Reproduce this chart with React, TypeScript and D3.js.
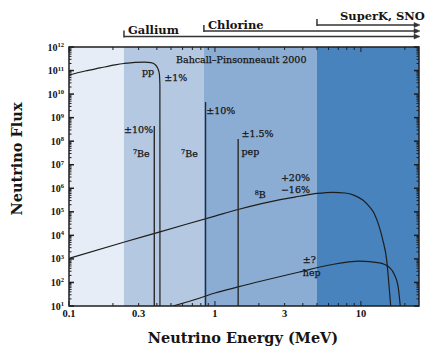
import React from 'react';
import * as d3 from 'd3';

// energy bands (MeV) and the detector thresholds that define them
const bandEdges = [0.1, 0.238, 0.84, 5.0, 25];
const bandColors = ['#e6edf6', '#b5c8e1', '#8badd4', '#4883bd'];
const detectorNames = ['Gallium', 'Chlorine', 'SuperK, SNO'];
const detectorThresholds = [0.238, 0.84, 5.0];

// continuous spectra: energy (MeV) and log10 flux
const ppEnergy = [0.1, 0.129, 0.163, 0.207, 0.238, 0.283, 0.331, 0.364, 0.388, 0.407, 0.416, 0.4195, 0.42];
const ppLogFlux = [10.81, 10.98, 11.11, 11.24, 11.3, 11.35, 11.36, 11.34, 11.26, 11.07, 10.85, 10.4, 1];

const b8Energy = [0.1, 0.24, 0.42, 1.0, 1.44, 2.8, 3.8, 5.0, 6.4, 7.8, 9.0, 10.3, 11.5, 12.4, 13.3, 14.1, 15.0, 15.6, 16.0];
const b8LogFlux = [3.02, 3.72, 4.15, 4.82, 5.1, 5.52, 5.66, 5.78, 5.83, 5.8, 5.7, 5.5, 5.2, 4.9, 4.4, 3.82, 2.97, 1.83, 1.0];

const hepEnergy = [0.516, 0.79, 1.0, 1.44, 3.83, 6.1, 9.8, 13.4, 15.8, 17.0, 18.0, 18.6];
const hepLogFlux = [1.0, 1.34, 1.55, 1.81, 2.45, 2.74, 2.91, 2.83, 2.62, 2.32, 1.81, 1.0];

// line sources
const lineEnergy = [0.384, 0.862, 1.442];
const lineLogFlux = [8.65, 9.66, 8.09];

const xTickLabels = [0.1, 0.3, 1, 3, 10];
const yTickExponents = [1, 2, 3, 4, 5, 6, 7, 8, 9, 10, 11, 12];

const W = 431;
const H = 351;
const L = 69, R = 419, T = 47, B = 306;
const serif = '"DejaVu Serif", serif';
const tickFont = '"Liberation Serif", serif';

export default function App() {
  const x = d3.scaleLog().domain([0.1, 25]).range([L, R]);
  const y = d3.scaleLog().domain([10, 1e12]).range([B, T]);

  const line = d3.line<[number, number]>()
    .x(d => x(d[0]))
    .y(d => y(Math.pow(10, d[1])))
    .curve(d3.curveMonotoneX);

  const zip = (e: number[], f: number[]) => e.map((v, i) => [v, f[i]] as [number, number]);
  const spectra = [zip(ppEnergy, ppLogFlux), zip(b8Energy, b8LogFlux), zip(hepEnergy, hepLogFlux)];

  const xTicks = x.ticks();
  const yMinor: number[] = [];
  for (let e = 1; e < 12; e++) for (let m = 2; m < 10; m++) yMinor.push(m * Math.pow(10, e));

  const detY = [36.5, 31, 25];
  const labelY = [34, 28.5, 20];

  const lbl = { fontFamily: serif, fontSize: 9.5, fill: '#151515', stroke: '#151515', strokeWidth: 0.25 } as const;

  return (
    <svg width={W} height={H} style={{ position: 'absolute', left: 0, top: 0, background: '#fff' }}>
      <defs>
        <clipPath id="plot"><rect x={L} y={T} width={R - L} height={B - T} /></clipPath>
      </defs>

      {bandColors.map((c, i) => (
        <rect key={i} x={x(bandEdges[i])} y={T} width={x(bandEdges[i + 1]) - x(bandEdges[i])} height={B - T} fill={c} />
      ))}

      <g clipPath="url(#plot)" fill="none" stroke="#1e1e1e" strokeWidth={1.2}>
        {spectra.map((s, i) => <path key={i} d={line(s) || ''} />)}
        {lineEnergy.map((e, i) => (
          <line key={i} x1={x(e)} x2={x(e)} y1={B} y2={y(Math.pow(10, lineLogFlux[i]))} stroke="#2a2a2a" strokeWidth={1.4} />
        ))}
      </g>

      {/* ticks */}
      <g stroke="#1e1e1e" strokeWidth={1}>
        {xTicks.map((t, i) => {
          const major = [0.1, 1, 10].includes(+t.toPrecision(3));
          const len = major ? 5 : 3;
          return (
            <g key={i}>
              <line x1={x(t)} x2={x(t)} y1={B} y2={B - len} />
              <line x1={x(t)} x2={x(t)} y1={T} y2={T + len} />
            </g>
          );
        })}
        {yTickExponents.map(e => (
          <g key={e}>
            <line x1={L} x2={L + 5} y1={y(Math.pow(10, e))} y2={y(Math.pow(10, e))} strokeWidth={1.5} />
            <line x1={R} x2={R - 5} y1={y(Math.pow(10, e))} y2={y(Math.pow(10, e))} strokeWidth={1.5} />
          </g>
        ))}
        {yMinor.map((v, i) => (
          <g key={i}>
            <line x1={L} x2={L + 2.5} y1={y(v)} y2={y(v)} />
            <line x1={R} x2={R - 2.5} y1={y(v)} y2={y(v)} />
          </g>
        ))}
      </g>

      <rect x={L} y={T} width={R - L} height={B - T} fill="none" stroke="#1e1e1e" strokeWidth={1.5} />

      {/* tick labels */}
      {xTickLabels.map(t => (
        <text key={t} x={x(t)} y={317} textAnchor="middle" fontFamily={tickFont} fontWeight="bold" fontSize={10.5} fill="#111">{t}</text>
      ))}
      {yTickExponents.map(e => (
        <text key={e} x={64} y={y(Math.pow(10, e)) + 3.5} textAnchor="end" fontFamily={tickFont} fontWeight="bold" fontSize={10} fill="#111">
          <tspan>10</tspan>
          <tspan dy={-3.5} fontSize={6.5}>{e}</tspan>
        </text>
      ))}

      {/* detectors */}
      <g stroke="#333" strokeWidth={1.5}>
        {detectorThresholds.map((t, i) => (
          <g key={i}>
            <line x1={x(t)} x2={x(t)} y1={detY[i] - 6} y2={detY[i] + 1} />
            <line x1={x(t)} x2={R - 3} y1={detY[i]} y2={detY[i]} />
            <path d={`M${R - 5},${detY[i] - 2.5}L${R + 1},${detY[i]}L${R - 5},${detY[i] + 2.5}Z`} fill="#333" strokeWidth={0.5} />
          </g>
        ))}
      </g>
      {detectorNames.map((n, i) => (
        <text key={n} x={x(detectorThresholds[i]) + (i === 2 ? 23 : 4)} y={labelY[i]} fontFamily={serif} fontWeight="bold" fontSize={11.5} fill="#151515">{n}</text>
      ))}

      {/* annotations */}
      <text {...lbl} x={x(0.541)} y={y(Math.pow(10, 11.32))}>Bahcall–Pinsonneault 2000</text>
      <text {...lbl} x={x(0.316)} y={y(Math.pow(10, 10.83))}>pp</text>
      <text {...lbl} x={x(0.45)} y={y(Math.pow(10, 10.55))}>±1%</text>
      <text {...lbl} x={x(0.238)} y={y(Math.pow(10, 8.35))}>±10%</text>
      <text {...lbl} x={x(0.274)} y={y(Math.pow(10, 7.34))}>
        <tspan fontSize={6.5} dy={-3}>7</tspan><tspan dy={3}>Be</tspan>
      </text>
      <text {...lbl} x={x(0.586)} y={y(Math.pow(10, 7.34))}>
        <tspan fontSize={6.5} dy={-3}>7</tspan><tspan dy={3}>Be</tspan>
      </text>
      <text {...lbl} x={x(0.872)} y={y(Math.pow(10, 9.15))}>±10%</text>
      <text {...lbl} x={x(1.52)} y={y(Math.pow(10, 8.17))}>±1.5%</text>
      <text {...lbl} x={x(1.52)} y={y(Math.pow(10, 7.4))}>pep</text>
      <text {...lbl} x={x(2.83)} y={y(Math.pow(10, 6.3))}>+20%</text>
      <text {...lbl} x={x(2.83)} y={y(Math.pow(10, 5.8))}>−16%</text>
      <text {...lbl} x={x(1.87)} y={y(Math.pow(10, 5.6))}>
        <tspan fontSize={6.5} dy={-3}>8</tspan><tspan dy={3}>B</tspan>
      </text>
      <text {...lbl} x={x(4.0)} y={y(Math.pow(10, 2.83))}>±?</text>
      <text {...lbl} x={x(4.0)} y={y(Math.pow(10, 2.28))}>hep</text>

      {/* axis titles */}
      <text x={243} y={343} textAnchor="middle" fontFamily={serif} fontWeight="bold" fontSize={14.5} fill="#151515">Neutrino Energy (MeV)</text>
      <text transform="translate(22,159) rotate(-90)" textAnchor="middle" fontFamily={serif} fontWeight="bold" fontSize={14.5} fill="#151515">Neutrino Flux</text>
    </svg>
  );
}
